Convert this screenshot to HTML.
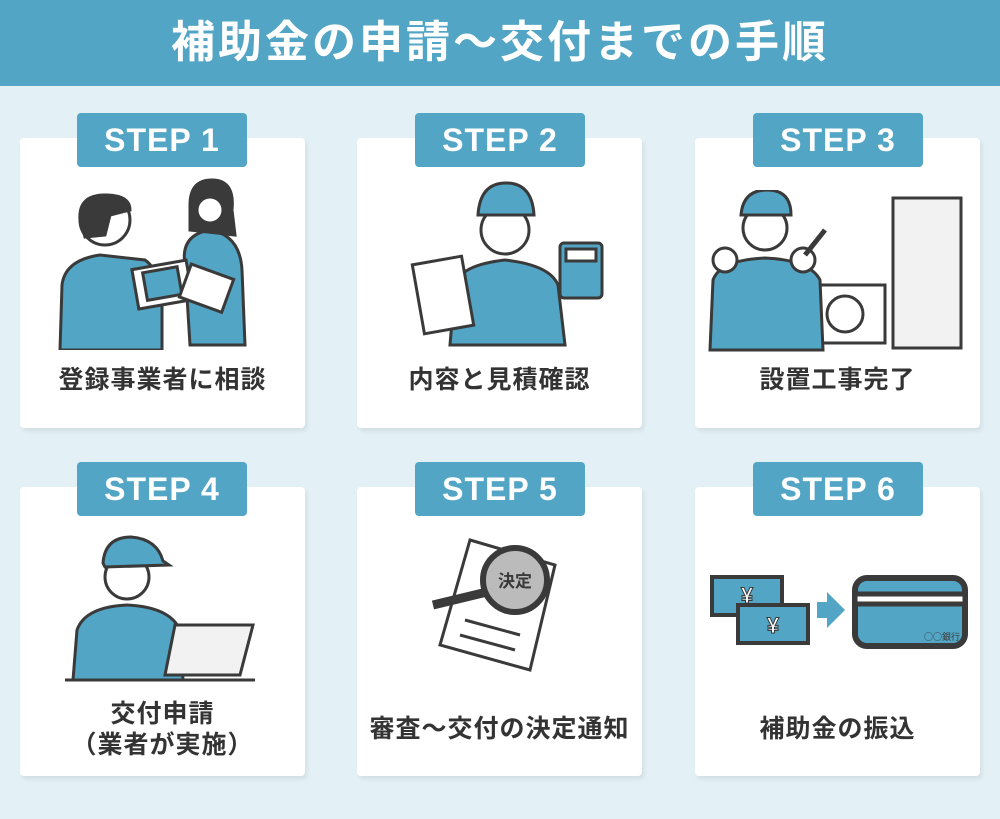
<!DOCTYPE html>
<html><head><meta charset="utf-8"><style>
*{margin:0;padding:0;box-sizing:border-box}
body{width:1000px;height:819px;background:#e3f1f7;position:relative;overflow:hidden;font-family:"Liberation Sans","Noto Sans CJK JP",sans-serif}
.hd{position:absolute;left:0;top:0;width:1000px;height:86px;background:#52a5c4;color:#fff;font-size:44px;font-weight:bold;text-align:center;line-height:86px;letter-spacing:3px}
.card{position:absolute;width:285px;background:#fff;border-radius:4px;box-shadow:2px 3px 4px rgba(0,0,0,.08)}
.step{position:absolute;width:170px;height:54px;background:#52a5c4;border-radius:4px;color:#fff;font-size:32px;font-weight:bold;text-align:center;line-height:54px;letter-spacing:1px}
.lb{position:absolute;width:285px;text-align:center;font-size:25px;font-weight:bold;color:#333;line-height:31px;letter-spacing:1px}
svg{position:absolute}
</style></head><body>
<div class="hd">補助金の申請～交付までの手順</div>

<div class="card" style="left:20px;top:138px;height:290px"></div>
<div class="card" style="left:357px;top:138px;height:290px"></div>
<div class="card" style="left:695px;top:138px;height:290px"></div>
<div class="card" style="left:20px;top:487px;height:289px"></div>
<div class="card" style="left:357px;top:487px;height:289px"></div>
<div class="card" style="left:695px;top:487px;height:289px"></div>

<div class="step" style="left:77px;top:113px">STEP 1</div>
<div class="step" style="left:415px;top:113px">STEP 2</div>
<div class="step" style="left:753px;top:113px">STEP 3</div>
<div class="step" style="left:77px;top:462px">STEP 4</div>
<div class="step" style="left:415px;top:462px">STEP 5</div>
<div class="step" style="left:753px;top:462px">STEP 6</div>

<div class="lb" style="left:20px;top:365px">登録事業者に相談</div>
<div class="lb" style="left:357px;top:365px">内容と見積確認</div>
<div class="lb" style="left:695px;top:365px">設置工事完了</div>
<div class="lb" style="left:20px;top:699px">交付申請<br>（業者が実施）</div>
<div class="lb" style="left:357px;top:714px">審査～交付の決定通知</div>
<div class="lb" style="left:695px;top:714px">補助金の振込</div>

<!-- step1 -->
<svg style="left:50px;top:175px" width="220" height="175" viewBox="0 0 220 175" stroke="#3a3a3a" stroke-width="3">
<path d="M140 170 L135 90 Q130 60 160 55 Q190 60 192 95 L195 170Z" fill="#52a5c4"/>
<circle cx="160" cy="30" r="18" fill="#fff"/><path d="M140 30 Q140 5 162 5 Q185 5 182 35 L185 60 L140 55Z" fill="#3a3a3a"/>
<circle cx="160" cy="35" r="13" fill="#fff"/>
<path d="M10 175 L12 110 Q15 85 50 80 L95 85 Q110 95 112 130 L112 175Z" fill="#52a5c4"/>
<circle cx="55" cy="45" r="25" fill="#fff"/><path d="M30 45 Q28 20 55 20 Q80 20 80 35 L60 40 L55 60 L35 62Z" fill="#3a3a3a"/>
<rect x="85" y="90" width="55" height="40" fill="#fff" transform="rotate(-10 110 110)"/>
<rect x="95" y="95" width="35" height="28" fill="#52a5c4" transform="rotate(-10 110 110)"/>
<rect x="135" y="95" width="45" height="35" fill="#fff" transform="rotate(20 155 110)"/>
</svg>
<!-- step2 -->
<svg style="left:410px;top:175px" width="200" height="175" viewBox="0 0 200 175" stroke="#3a3a3a" stroke-width="3">
<path d="M40 170 L45 110 Q50 90 95 85 Q140 90 148 110 L155 170Z" fill="#52a5c4"/>
<circle cx="95" cy="55" r="24" fill="#fff"/><path d="M68 40 Q70 8 96 8 Q122 8 124 40Z" fill="#52a5c4"/>
<rect x="8" y="85" width="50" height="70" fill="#fff" transform="rotate(-10 33 120)"/>
<rect x="150" y="68" width="42" height="55" rx="4" fill="#52a5c4"/><rect x="156" y="74" width="30" height="12" fill="#fff"/>
</svg>
<!-- step3 -->
<svg style="left:705px;top:190px" width="265" height="165" viewBox="0 0 265 165" stroke="#3a3a3a" stroke-width="3">
<rect x="188" y="8" width="68" height="150" fill="#f2f2f2"/>
<rect x="110" y="95" width="70" height="58" fill="#fff"/><circle cx="140" cy="124" r="18" fill="#fff"/>
<path d="M5 160 L8 90 Q15 70 60 68 Q105 70 115 90 L118 160Z" fill="#52a5c4"/>
<circle cx="60" cy="38" r="22" fill="#fff"/><path d="M36 25 Q38 0 62 0 Q86 0 86 25Z" fill="#52a5c4"/>
<circle cx="20" cy="70" r="12" fill="#fff"/><circle cx="98" cy="70" r="12" fill="#fff"/>
<path d="M100 65 L120 40" stroke-width="5"/>
</svg>
<!-- step4 -->
<svg style="left:65px;top:535px" width="200" height="150" viewBox="0 0 200 150" stroke="#3a3a3a" stroke-width="3">
<path d="M8 145 L12 95 Q20 72 62 70 Q105 72 115 95 L118 145Z" fill="#52a5c4"/>
<circle cx="62" cy="42" r="22" fill="#fff"/><path d="M38 28 Q40 2 66 2 Q92 4 98 26 L104 30 L40 32Z" fill="#52a5c4"/>
<path d="M110 90 L188 90 L175 140 L100 140Z" fill="#f2f2f2"/>
<line x1="0" y1="145" x2="190" y2="145"/>
</svg>
<!-- step5 -->
<svg style="left:425px;top:530px" width="150" height="145" viewBox="0 0 150 145" stroke="#3a3a3a" stroke-width="3">
<path d="M45 10 L130 35 L105 140 L15 115Z" fill="#fff"/>
<line x1="40" y1="90" x2="95" y2="105"/><line x1="35" y1="105" x2="90" y2="120"/>
<circle cx="90" cy="50" r="32" fill="#bbb" stroke-width="6"/>
<line x1="62" y1="62" x2="8" y2="75" stroke-width="9"/>
<text x="90" y="57" font-size="17" text-anchor="middle" fill="#3a3a3a" stroke="none" font-weight="bold" font-family="Noto Sans CJK JP,sans-serif">決定</text>
</svg>
<!-- step6 -->
<svg style="left:705px;top:570px" width="270" height="85" viewBox="0 0 270 85" stroke="#3a3a3a" stroke-width="4">
<rect x="7" y="7" width="70" height="38" fill="#52a5c4"/>
<rect x="33" y="35" width="70" height="38" fill="#52a5c4"/>
<text x="68" y="63" font-size="22" text-anchor="middle" fill="#fff" stroke="#3a3a3a" stroke-width="1" font-weight="bold">¥</text>
<text x="42" y="33" font-size="22" text-anchor="middle" fill="#fff" stroke="#3a3a3a" stroke-width="1" font-weight="bold">¥</text>
<path d="M112 32 L122 32 L122 22 L140 40 L122 58 L122 48 L112 48Z" fill="#52a5c4" stroke="none"/>
<rect x="150" y="8" width="110" height="68" rx="12" fill="#52a5c4" stroke-width="6"/>
<rect x="150" y="24" width="110" height="10" fill="#fff" stroke-width="5"/>
<text x="237" y="70" font-size="9" text-anchor="middle" fill="#3a3a3a" stroke="none" font-family="Noto Sans CJK JP,sans-serif">○○銀行</text>
</svg>
</body></html>
